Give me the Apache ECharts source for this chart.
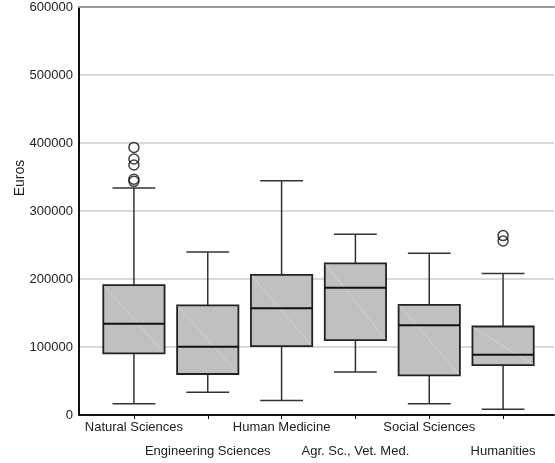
<!DOCTYPE html>
<html>
<head>
<meta charset="utf-8">
<script src="https://cdn.jsdelivr.net/npm/echarts@6/dist/echarts.min.js"></script>
<style>
html,body{margin:0;padding:0;background:#fff;}
#chart{width:555px;height:463px;}
</style>
</head>
<body>
<div id="chart"></div>
<script>
const categories = ['Natural Sciences', 'Engineering Sciences', 'Human Medicine', 'Agr. Sc., Vet. Med.', 'Social Sciences', 'Humanities'];
const lowerWhisker = [15000, 32000, 20000, 62000, 15000, 7000];
const q1 = [89500, 59000, 100000, 109000, 57000, 72000];
const median = [133000, 99000, 156000, 186000, 131000, 87500];
const q3 = [190000, 160000, 205000, 222000, 161000, 129000];
const upperWhisker = [333000, 239000, 344000, 265000, 237000, 207000];
const outlierCategory = [0, 0, 0, 0, 0, 5, 5];
const outlierValue = [393000, 376000, 367000, 346000, 343000, 263000, 255000];
const yTicks = [0, 100000, 200000, 300000, 400000, 500000, 600000];

const FONT = "'Liberation Sans', Arial, sans-serif";
const boxData = categories.map((c, i) => [i, lowerWhisker[i], q1[i], median[i], q3[i], upperWhisker[i]]);
const outlierData = outlierCategory.map((c, i) => [c, outlierValue[i]]);

function renderBox(params, api) {
  const idx = api.value(0);
  const band = api.size([1, 0])[0];
  const boxHalf = band * 0.415;
  const capHalf = band * 0.29;
  const pLow = api.coord([idx, api.value(1)]);
  const pQ1 = api.coord([idx, api.value(2)]);
  const pMed = api.coord([idx, api.value(3)]);
  const pQ3 = api.coord([idx, api.value(4)]);
  const pHigh = api.coord([idx, api.value(5)]);
  const x = pMed[0];
  const wStyle = {stroke: '#333', lineWidth: 1.5};
  return {
    type: 'group',
    children: [
      {type: 'line', shape: {x1: x, y1: pHigh[1], x2: x, y2: pQ3[1]}, style: wStyle},
      {type: 'line', shape: {x1: x, y1: pQ1[1], x2: x, y2: pLow[1]}, style: wStyle},
      {type: 'line', shape: {x1: x - capHalf, y1: pHigh[1], x2: x + capHalf, y2: pHigh[1]}, style: wStyle},
      {type: 'line', shape: {x1: x - capHalf, y1: pLow[1], x2: x + capHalf, y2: pLow[1]}, style: wStyle},
      {type: 'rect', shape: {x: x - boxHalf, y: pQ3[1], width: boxHalf * 2, height: pQ1[1] - pQ3[1]},
        style: {fill: '#c0c0c0', stroke: '#222', lineWidth: 1.8}},
      {type: 'line', shape: {x1: x - boxHalf + 1, y1: pQ3[1] + 1, x2: x + boxHalf - 1, y2: pQ1[1] - 1},
        style: {stroke: '#d6d6d6', lineWidth: 0.8}},
      {type: 'line', shape: {x1: x - boxHalf, y1: pMed[1], x2: x + boxHalf, y2: pMed[1]},
        style: {stroke: '#111', lineWidth: 2}}
    ]
  };
}

const chart = echarts.init(document.getElementById('chart'), null, {renderer: 'canvas'});
chart.setOption({
  backgroundColor: '#fff',
  animation: false,
  grid: [
    {left: 79, right: 1, top: 7, bottom: 48},
    {left: 97, right: 15, top: 7, bottom: 48}
  ],
  xAxis: [
    {type: 'value', gridIndex: 0, min: 0, max: 1, position: 'bottom',
      axisLine: {show: true, lineStyle: {color: '#111', width: 2}},
      axisTick: {show: false}, axisLabel: {show: false}, splitLine: {show: false}},
    {type: 'value', gridIndex: 0, min: 0, max: 1, position: 'top',
      axisLine: {show: true, lineStyle: {color: '#9a9a9a', width: 2}},
      axisTick: {show: false}, axisLabel: {show: false}, splitLine: {show: false}},
    {type: 'category', gridIndex: 1, data: categories, boundaryGap: true,
      axisLine: {show: false},
      axisTick: {show: true, alignWithLabel: true, length: 5, lineStyle: {color: '#111', width: 1}},
      axisLabel: {
        interval: 0, margin: 1, color: '#222', fontSize: 13, fontFamily: FONT, lineHeight: 24,
        formatter: function (v, i) { return i % 2 ? '\n' + v : v; }
      },
      splitLine: {show: false}}
  ],
  yAxis: [
    {type: 'value', gridIndex: 0, min: 0, max: 600000, interval: 100000,
      axisLine: {show: true, lineStyle: {color: '#111', width: 2}},
      axisTick: {show: false},
      axisLabel: {margin: 6, color: '#222', fontSize: 13, fontFamily: FONT,
        customValues: yTicks, formatter: function (v) { return String(v); }},
      splitLine: {show: true, lineStyle: {color: '#cccccc', width: 1.5}}},
    {type: 'value', gridIndex: 1, min: 0, max: 600000, interval: 100000, show: false}
  ],
  graphic: [
    {type: 'text', x: 20, y: 178, rotation: Math.PI / 2,
      style: {text: 'Euros', fill: '#222', font: "14px 'Liberation Sans', Arial, sans-serif",
        textAlign: 'center', textVerticalAlign: 'middle'}}
  ],
  series: [
    {type: 'custom', xAxisIndex: 2, yAxisIndex: 1, data: boxData, renderItem: renderBox,
      encode: {x: 0, y: [1, 2, 3, 4, 5]}, z: 3},
    {type: 'scatter', xAxisIndex: 2, yAxisIndex: 1, data: outlierData, symbol: 'circle', symbolSize: 10,
      itemStyle: {color: 'rgba(255,255,255,0)', borderColor: '#111', borderWidth: 1.5}, z: 4}
  ]
});
</script>
</body>
</html>
